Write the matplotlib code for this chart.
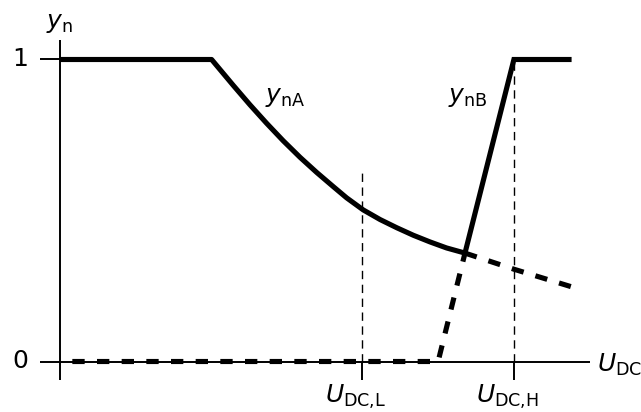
import numpy as np
import matplotlib
matplotlib.use("Agg")
import matplotlib.pyplot as plt

plt.rcParams["mathtext.fontset"] = "dejavusans"
plt.rcParams["font.family"] = "DejaVu Sans"

# normalised voltage U_DC (U_DC,L = 1) and normalised output y_n
u_low = 1.0
u_high = 1.503

# y_nA: flat at 1, then falling curve down to the crossing with y_nB
ua_solid = [0.0, 0.502, 0.574, 0.629, 0.684, 0.739, 0.795, 0.850, 0.905,
            0.949, 1.004, 1.060, 1.115, 1.170, 1.225, 1.280, 1.341]
ya_solid = [1.0, 1.0, 0.914, 0.850, 0.789, 0.731, 0.676, 0.626, 0.579,
            0.542, 0.502, 0.470, 0.443, 0.418, 0.396, 0.376, 0.359]
# continuation of y_nA (dashed)
ua_dash = [1.341, 1.505, 1.695]
ya_dash = [0.359, 0.305, 0.247]

# y_nB: zero, rising ramp, then flat at 1
ub_dash = [0.0, 1.252, 1.341]
yb_dash = [0.0, 0.0, 0.359]
ub_solid = [1.341, 1.503, 1.694]
yb_solid = [0.359, 1.0, 1.0]

fig = plt.figure(figsize=(6.41, 4.12), dpi=100)
ax = fig.add_axes([0, 0, 1, 1])
ax.set_xlim(-60 / 302, 581 / 302)
ax.set_ylim(-50.5 / 302, 361.5 / 302)
ax.axis("off")

axis_lw = 1.4
# axes lines
ax.plot([-0.066, 1.755], [0, 0], color="black", lw=axis_lw, solid_capstyle="butt")
ax.plot([0, 0], [-0.061, 1.065], color="black", lw=axis_lw, solid_capstyle="butt")
# y ticks
ax.plot([-0.066, 0], [1, 1], color="black", lw=axis_lw, solid_capstyle="butt")
# x ticks below the axis
for u in [u_low, u_high]:
    ax.plot([u, u], [-0.061, 0], color="black", lw=axis_lw, solid_capstyle="butt")
# thin dashed guide lines
ax.plot([u_low, u_low], [0, 0.634], color="black", lw=1.0, linestyle=(0, (6, 4)))
ax.plot([u_high, u_high], [0, 1.0], color="black", lw=1.0, linestyle=(0, (6, 4)))

thick = 3.7
ax.plot(ua_solid, ya_solid, color="black", lw=thick, solid_joinstyle="round",
        solid_capstyle="butt")
ax.plot(ub_solid, yb_solid, color="black", lw=thick, solid_joinstyle="miter",
        solid_capstyle="butt")
ax.plot(ua_dash, ya_dash, color="black", lw=thick, linestyle=(0, (2.4, 2.4)),
        dash_capstyle="butt")
ax.plot(ub_dash, yb_dash, color="black", lw=thick, linestyle=(2.4, (2.4, 2.4)),
        dash_capstyle="butt")

fs = 18
ax.text(-0.105, 1.0, "1", fontsize=fs, ha="right", va="center")
ax.text(-0.105, 0.0, "0", fontsize=fs, ha="right", va="center")
ax.text(-0.045, 1.12, r"$y_{\mathrm{n}}$", fontsize=fs, ha="left", va="center")
ax.text(0.68, 0.875, r"$y_{\mathrm{nA}}$", fontsize=fs, ha="left", va="center")
ax.text(1.285, 0.875, r"$y_{\mathrm{nB}}$", fontsize=fs, ha="left", va="center")
ax.text(1.777, -0.01, r"$U_{\mathrm{DC}}$", fontsize=fs, ha="left", va="center")
ax.text(u_low - 0.02, -0.072, r"$U_{\mathrm{DC{,}L}}$", fontsize=fs, ha="center", va="top")
ax.text(u_high - 0.02, -0.072, r"$U_{\mathrm{DC{,}H}}$", fontsize=fs, ha="center", va="top")

fig.savefig("out.png", dpi=100)
